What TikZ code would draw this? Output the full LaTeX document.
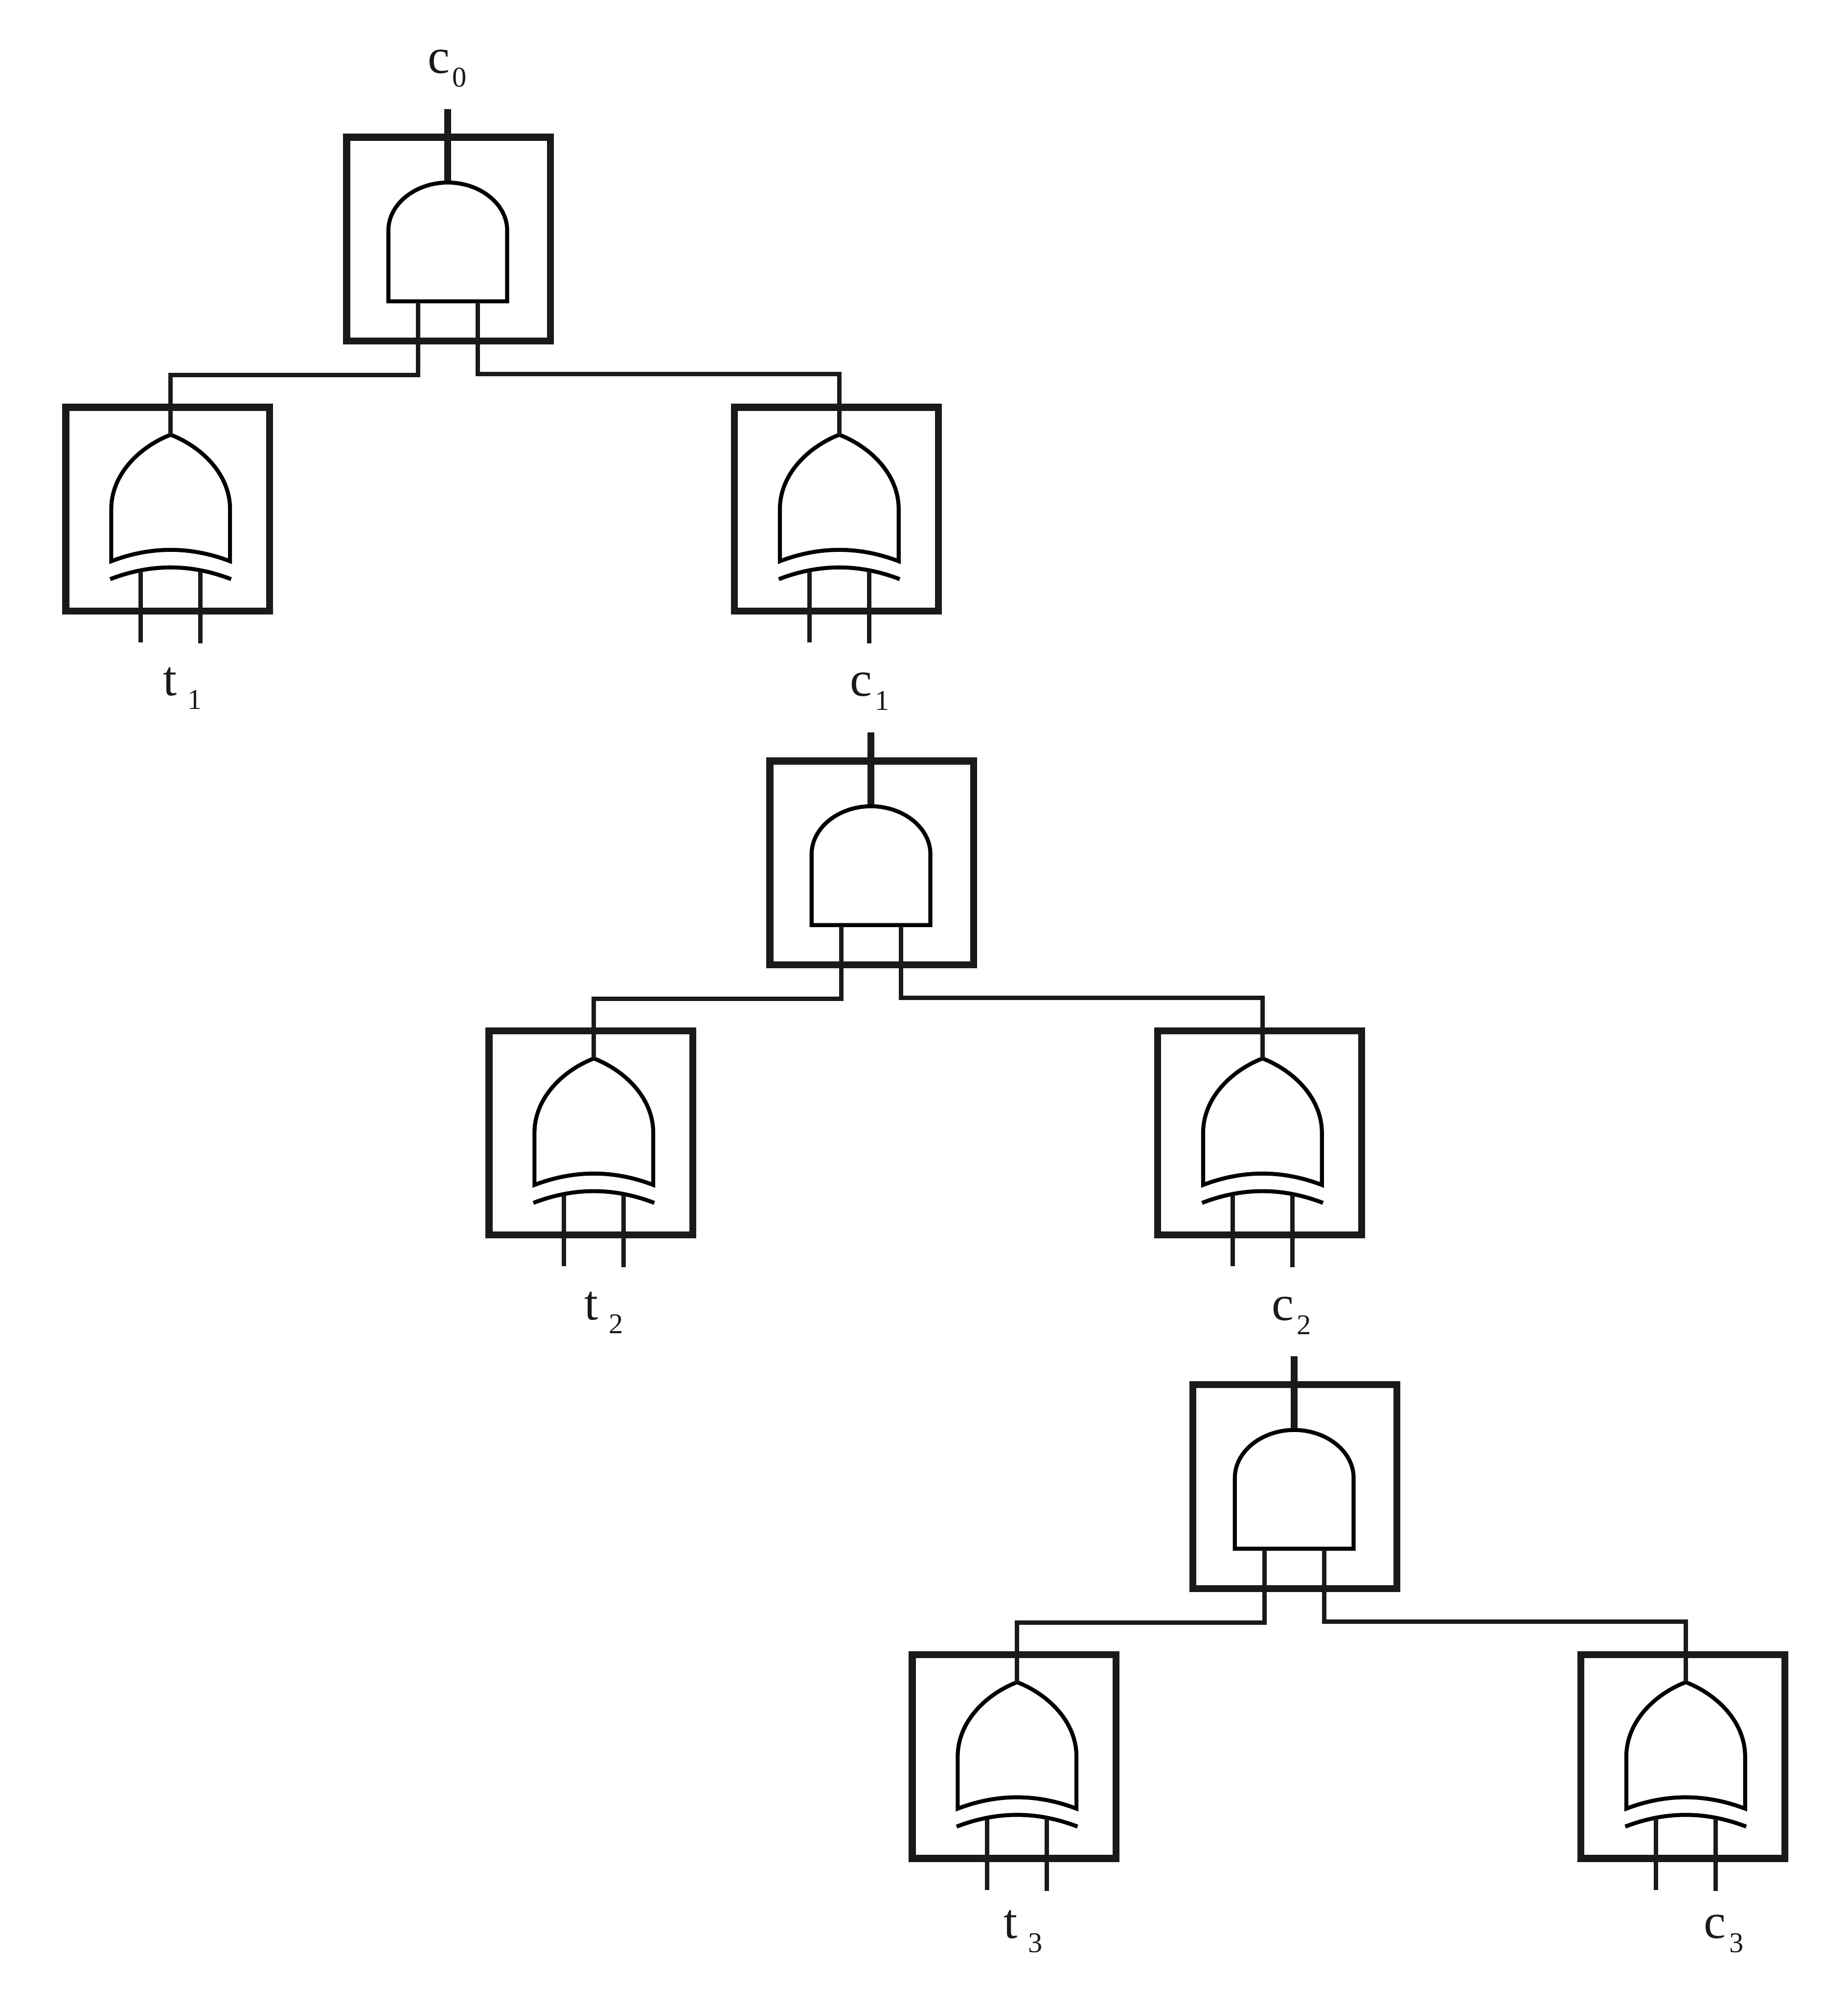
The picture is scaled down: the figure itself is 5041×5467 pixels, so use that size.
\documentclass[tikz,border=0pt]{standalone}
\usepackage{fontspec}
\setmainfont{Liberation Serif}
\definecolor{myink}{RGB}{26,26,26}

\begin{document}
\begin{tikzpicture}[
    x=0.01cm,y=-0.01cm,
    cell/.style={line width=5.4pt,myink},
    gate/.style={line width=3.1pt,black},
    wire/.style={line width=3.4pt,myink},
    outwire/.style={line width=5.4pt,myink},
    lab/.style={anchor=base west,inner sep=0pt,text=myink,font=\fontsize{38.4}{40}\selectfont},
    andcell/.pic={
        \draw[cell] (-278,-278) rectangle (278,278);
        \draw[gate] (-164,169.5) -- (-164,-24)
            .. controls (-164,-96) and (-90,-154.5) .. (-2,-154.5)
            .. controls (86,-154.5) and (160,-96) .. (160,-24)
            -- (160,169.5) -- cycle;
        \coordinate (-top) at (-2.5,-355.5);
        \coordinate (-out) at (-2.5,-160);
        \coordinate (-inl) at (-82.5,172);
        \coordinate (-inr) at (79.5,172);
    },
    orcell/.pic={
        \draw[cell] (-278,-278) rectangle (278,278);
        \draw[gate] (-154,142) -- (-154,0)
            .. controls (-154,-95) and (-77,-170) .. (8,-203)
            .. controls (93,-170) and (170,-95) .. (170,0)
            -- (170,142)
            .. controls (62,100.7) and (-46,100.7) .. (-154,142) -- cycle;
        \draw[gate] (-157,191) .. controls (-46,148.3) and (62,148.3) .. (173,191);
        \coordinate (-tip) at (8,-203);
        \coordinate (-inl) at (-73.5,170);
        \coordinate (-inr) at (89,170);
        \coordinate (-endl) at (-73.5,364);
        \coordinate (-endr) at (89,366);
    }
]
\useasboundingbox (0,0) rectangle (5041,5467);

% three stages
\foreach \i in {0,1,2} {
    \pic (a\i) at (1223.5+1154.5*\i,652.5+1701.5*\i) {andcell};
    \pic (t\i) at (457.5+1154.5*\i,1389+1701.5*\i) {orcell};
    \pic (r\i) at (2281.5+1154.5*\i,1389+1701.5*\i) {orcell};
    \draw[outwire] (a\i-top) -- (a\i-out);
    % links
    \draw[wire] (a\i-inl) -- ++(0,199) -| (t\i-tip);
    \draw[wire] (a\i-inr) -- ++(0,196) -| (r\i-tip);
    \draw[wire] (t\i-inl) -- (t\i-endl);
    \draw[wire] (t\i-inr) -- (t\i-endr);
    \draw[wire] (r\i-inl) -- (r\i-endl);
    \draw[wire] (r\i-inr) -- (r\i-endr);
}

% labels
\foreach \nm/\txt/\idx/\gap/\x/\y in {
    c0/c/0/0.07/1166/199, t1/t/1/0.30/444/1897, c1/c/1/0.07/2319/1899,
    t2/t/2/0.30/1593/3600, c2/c/2/0.08/3469/3602,
    t3/t/3/0.30/2737/5288, c3/c/3/0.10/4647/5288} {
    \node[lab] (lab\nm) at (\x,\y) {\txt\hspace{\gap cm}{\fontsize{22.2}{24}\selectfont\raisebox{-0.38cm}{\idx}}};
}

\end{tikzpicture}
\end{document}
